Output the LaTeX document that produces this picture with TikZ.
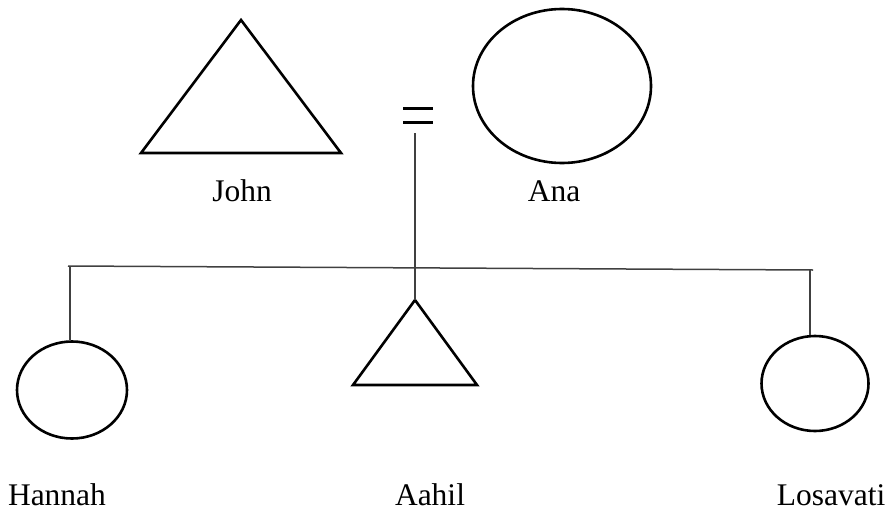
\documentclass[tikz,border=0pt]{standalone}
\usepackage{fontspec}
\setmainfont{Liberation Serif}
\usetikzlibrary{shapes.geometric}
\begin{document}
\begin{tikzpicture}[x=1pt,y=-1pt,
  shapeline/.style={line width=2.6pt, black, line join=miter},
  person/.style={ellipse, draw, line width=2.6pt, inner sep=0pt},
  conn/.style={line width=1.5pt, black!75},
  eqbar/.style={line width=3pt, black},
  lbl/.style={font=\fontsize{31.5}{36}\selectfont, anchor=base, inner sep=0pt, text depth=0pt}]
\useasboundingbox (0,0) rectangle (890,511);
% John triangle
\coordinate (johnT) at (241,20);
\coordinate (johnL) at (141,153);
\coordinate (johnR) at (341,153);
\draw[shapeline] (johnT) -- (johnL) -- (johnR) -- cycle;
% Ana
\node[person, minimum width=178pt, minimum height=154pt] (ana) at (562,86) {};
% marriage sign
\coordinate (eq1a) at (403,108); \coordinate (eq1b) at (433,108);
\coordinate (eq2a) at (403,122); \coordinate (eq2b) at (433,122);
\draw[eqbar] (eq1a) -- (eq1b);
\draw[eqbar] (eq2a) -- (eq2b);
\coordinate (desc) at (415,133);
% Aahil triangle
\coordinate (aahilT) at (415,300);
\coordinate (aahilL) at (353,385);
\coordinate (aahilR) at (477,385);
\draw[shapeline] (aahilT) -- (aahilL) -- (aahilR) -- cycle;
\draw[conn] (desc) -- (aahilT);
% sibling line
\coordinate (sibL) at (68,266);
\coordinate (sibR) at (813,270);
\draw[conn] (sibL) -- (sibR);
% Hannah
\node[person, minimum width=110pt, minimum height=97pt] (hannah) at (72,390) {};
\coordinate (hanTop) at (70,266);
\draw[conn] (hanTop) -- (hanTop |- hannah.north);
% Losavati
\node[person, minimum width=107pt, minimum height=95pt] (losa) at (815,383.5) {};
\coordinate (losTop) at (810,270);
\draw[conn] (losTop) -- (losTop |- losa.north);
% labels
\node[lbl] (johnlbl) at (242,201) {John};
\node[lbl] (analbl) at (554,201) {Ana};
\node[lbl] (hannahlbl) at (57,505) {Hannah};
\node[lbl] (aahillbl) at (430,505) {Aahil};
\node[lbl] (losalbl) at (831,505) {Losavati};
\end{tikzpicture}
\end{document}
